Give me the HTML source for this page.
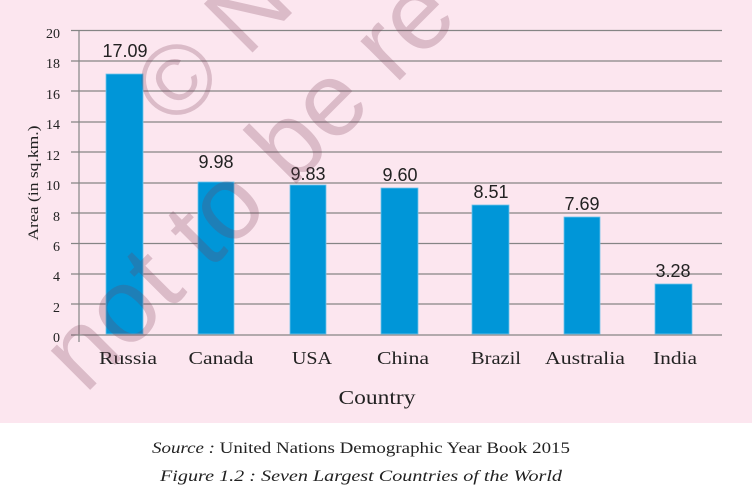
<!DOCTYPE html>
<html><head><meta charset="utf-8"><style>
html,body{margin:0;padding:0;background:#fff;}
svg{display:block;}
</style></head><body>
<svg width="756" height="492" xmlns="http://www.w3.org/2000/svg" font-family="Liberation Serif, serif">
<rect x="0" y="0" width="752" height="423" fill="#fce6ef"/>
<g stroke="#858585" stroke-width="1.2">
<line x1="71" y1="30.5" x2="722" y2="30.5"/>
<line x1="71" y1="61" x2="722" y2="61"/>
<line x1="71" y1="91" x2="722" y2="91"/>
<line x1="71" y1="122" x2="722" y2="122"/>
<line x1="71" y1="152" x2="722" y2="152"/>
<line x1="71" y1="183" x2="722" y2="183"/>
<line x1="71" y1="213" x2="722" y2="213"/>
<line x1="71" y1="243.5" x2="722" y2="243.5"/>
<line x1="71" y1="274" x2="722" y2="274"/>
<line x1="71" y1="304" x2="722" y2="304"/>
<line x1="71" y1="335" x2="722" y2="335"/>
<line x1="79" y1="30" x2="79" y2="342"/>
</g>
<g fill="#0096d8" stroke="#6fc3ea" stroke-width="0.8">
<rect x="106" y="74" width="37" height="260"/>
<rect x="198" y="182" width="36" height="152"/>
<rect x="290" y="185" width="36" height="149"/>
<rect x="381" y="188" width="37" height="146"/>
<rect x="472" y="205" width="37" height="129"/>
<rect x="564" y="217" width="36" height="117"/>
<rect x="655" y="284" width="37" height="50"/>
</g>
<g font-size="14" fill="#222" text-anchor="end">
<text x="60" y="38">20</text><text x="60" y="68">18</text><text x="60" y="99">16</text>
<text x="60" y="129">14</text><text x="60" y="160">12</text><text x="60" y="190">10</text>
<text x="60" y="221">8</text><text x="60" y="251">6</text><text x="60" y="281">4</text>
<text x="60" y="312">2</text><text x="60" y="342">0</text>
</g>
<text transform="translate(38,183) rotate(-90)" font-size="15" fill="#222" text-anchor="middle" textLength="115" lengthAdjust="spacingAndGlyphs">Area (in sq.km.)</text>
<g font-family="Liberation Sans, sans-serif" font-size="18" fill="#222" text-anchor="middle">
<text x="125" y="57">17.09</text><text x="216" y="168">9.98</text><text x="308" y="180">9.83</text>
<text x="400" y="181">9.60</text><text x="491" y="198">8.51</text><text x="582" y="210">7.69</text>
<text x="673" y="277">3.28</text>
</g>
<g font-size="18" fill="#222" text-anchor="middle" lengthAdjust="spacingAndGlyphs">
<text x="128" y="364" textLength="58" lengthAdjust="spacingAndGlyphs">Russia</text>
<text x="221" y="364" textLength="65" lengthAdjust="spacingAndGlyphs">Canada</text>
<text x="312" y="364" textLength="40" lengthAdjust="spacingAndGlyphs">USA</text>
<text x="403" y="364" textLength="52" lengthAdjust="spacingAndGlyphs">China</text>
<text x="496" y="364" textLength="50" lengthAdjust="spacingAndGlyphs">Brazil</text>
<text x="585" y="364" textLength="80" lengthAdjust="spacingAndGlyphs">Australia</text>
<text x="675" y="364" textLength="44" lengthAdjust="spacingAndGlyphs">India</text>
<text x="377" y="404" font-size="20" textLength="77" lengthAdjust="spacingAndGlyphs">Country</text>
</g>
<g fill="rgba(120,60,85,0.25)" font-family="Liberation Sans, sans-serif">
<text transform="translate(85,395) rotate(-45)" font-size="105">not to be re</text>
<text transform="translate(175,130) rotate(-45)" font-size="100">© N</text>
</g>
<text x="361" y="453" font-size="16" fill="#222" text-anchor="middle" textLength="418" lengthAdjust="spacingAndGlyphs"><tspan font-style="italic">Source :</tspan> United Nations Demographic Year Book 2015</text>
<text x="361" y="481" font-size="16" fill="#222" text-anchor="middle" font-style="italic" textLength="402" lengthAdjust="spacingAndGlyphs">Figure 1.2 : Seven Largest Countries of the World</text>
</svg>
</body></html>
